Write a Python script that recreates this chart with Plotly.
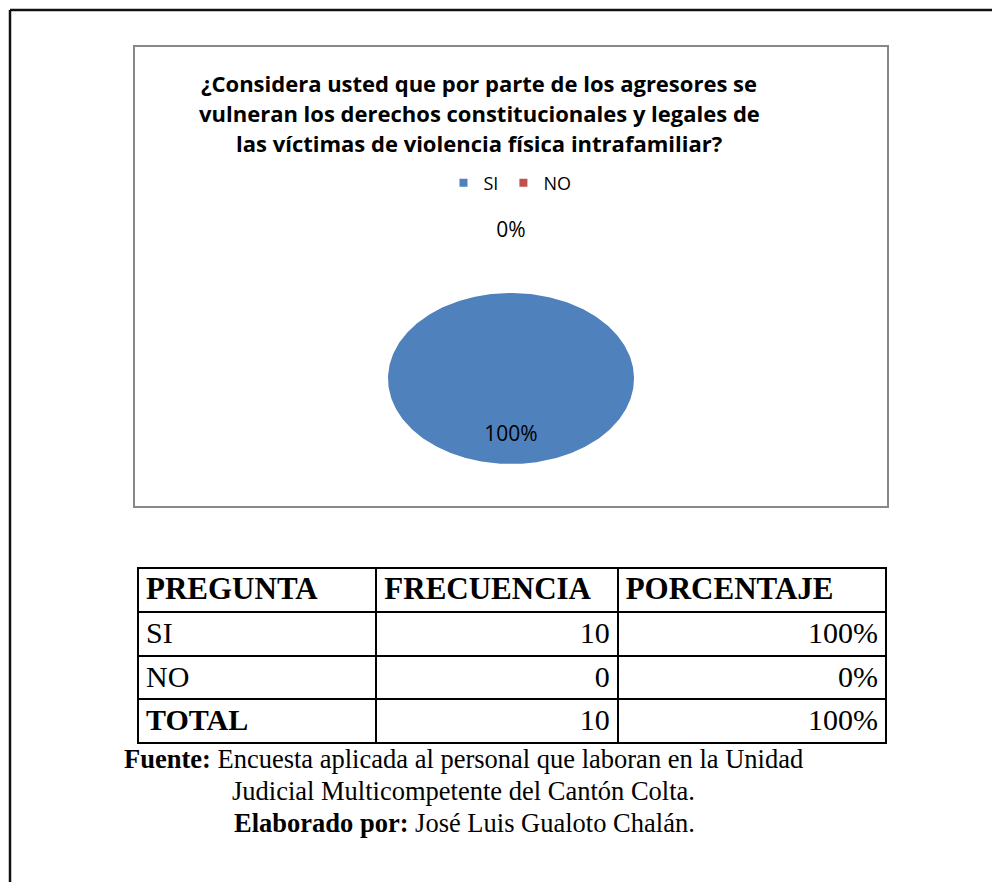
import numpy as np
import plotly.graph_objects as go

# ---------------- data ----------------
categories = ["SI", "NO"]
frequencies = [10, 0]
slice_colors = ["#4F81BD", "#C0504D"]
title_lines = [
    "¿Considera usted que por parte de los agresores se",
    "vulneran los derechos constitucionales y legales de",
    "las víctimas de violencia física intrafamiliar?",
]
table_header = ["PREGUNTA", "FRECUENCIA", "PORCENTAJE"]
total_label = "TOTAL"
source_lines = [
    "<b>Fuente:</b> Encuesta aplicada al personal que laboran en la Unidad",
    "Judicial Multicompetente del Cantón Colta.",
    "<b>Elaborado por:</b> José Luis Gualoto Chalán.",
]

# ---------------- helpers ----------------
W, H = 992, 882


def px(x):
    return x / W


def py(y):
    return 1 - y / H


total = sum(frequencies)
shares = [f / total for f in frequencies]
pct_labels = [f"{round(s * 100)}%" for s in shares]

fig = go.Figure()

# ---------------- pie (elliptical, as in the original) ----------------
cum = 0.0
lab_x, lab_y, lab_t = [], [], []
for cat, s, col, lab in zip(categories, shares, slice_colors, pct_labels):
    start, end = cum, cum + s
    cum = end
    if s > 0:
        t = np.linspace(start, end, max(3, int(s * 360) + 1))
        ang = np.pi / 2 - 2 * np.pi * t
        xs = np.concatenate([[0.0], np.cos(ang), [0.0]])
        ys = np.concatenate([[0.0], np.sin(ang), [0.0]])
        fig.add_trace(go.Scatter(
            x=xs, y=ys, mode="lines", fill="toself", fillcolor=col,
            line=dict(width=0, color=col), hoverinfo="skip",
            showlegend=False, legendgroup=cat, xaxis="x", yaxis="y"))
    mid = (start + end) / 2
    a = np.pi / 2 - 2 * np.pi * mid
    r = 0.673 if s >= 0.05 else 1.72
    lab_x.append(r * np.cos(a))
    lab_y.append(r * np.sin(a))
    lab_t.append(lab)

fig.add_trace(go.Scatter(
    x=lab_x, y=lab_y, text=lab_t, mode="text",
    textfont=dict(family="Open Sans", size=21, color="#000000"),
    textposition="middle center", cliponaxis=False, hoverinfo="skip",
    showlegend=False, xaxis="x", yaxis="y"))

# legend entries
for cat, col in zip(categories, slice_colors):
    fig.add_trace(go.Scatter(
        x=[None], y=[None], mode="markers", name=cat, legendgroup=cat,
        marker=dict(symbol="square", size=8, color=col),
        xaxis="x", yaxis="y"))

# ---------------- table ----------------
col1 = categories
col2 = [str(f) for f in frequencies]
col3 = pct_labels
total_row = [total_label, str(total), f"{round(sum(shares) * 100)}%"]

col_w = [238, 241, 268]
tx = [px(138), px(886)]
line_style = dict(color="black", width=2)

# header + category rows
fig.add_trace(go.Table(
    domain=dict(x=tx, y=[py(704), py(568)]),
    columnwidth=col_w,
    header=dict(
        values=table_header,
        align="left",
        font=dict(family="Liberation Serif", size=31, color="black",
                  weight="bold"),
        line=line_style, fill_color="white", height=44,
    ),
    cells=dict(
        values=[col1, col2, col3],
        align=["left", "right", "right"],
        font=dict(family="Liberation Serif", size=30, color="black"),
        line=line_style, fill_color="white", height=44,
    ),
))

# total row (first column bold)
fig.add_trace(go.Table(
    domain=dict(x=tx, y=[py(748), py(699)]),
    columnwidth=col_w,
    header=dict(
        values=total_row,
        align=["left", "right", "right"],
        font=dict(family="Liberation Serif", size=30, color="black",
                  weight=["bold", "normal", "normal"]),
        line=line_style, fill_color="white", height=44,
    ),
    cells=dict(values=[[], [], []], line=line_style, fill_color="white"),
))

# ---------------- annotations ----------------
annotations = []
for i, line in enumerate(title_lines):
    annotations.append(dict(
        text=f"<b>{line}</b>", x=px(479), y=py(83 + 30 * i),
        xref="paper", yref="paper", xanchor="center", yanchor="middle",
        showarrow=False, font=dict(family="Open Sans", size=22, color="#000000")))

src_pos = [(122, 759), (230, 791), (232, 823)]
for (sx, sy), line in zip(src_pos, source_lines):
    annotations.append(dict(
        text=line, x=px(sx), y=py(sy), xref="paper", yref="paper",
        xanchor="left", yanchor="middle", showarrow=False,
        font=dict(family="Liberation Serif", size=26.5, color="#000000")))

# ---------------- frames ----------------
shapes = [
    dict(type="line", xref="paper", yref="paper", x0=px(10), x1=px(10),
         y0=py(10), y1=py(882), line=dict(color="#111111", width=2.5)),
    dict(type="line", xref="paper", yref="paper", x0=px(10), x1=px(992),
         y0=py(10), y1=py(10), line=dict(color="#111111", width=2.5)),
    dict(type="rect", xref="paper", yref="paper", x0=px(134), x1=px(888),
         y0=py(507), y1=py(46), line=dict(color="#888888", width=2),
         fillcolor="rgba(0,0,0,0)"),
]

# pie axis: [-1, 1] maps onto pixel rows 293..464; extra headroom for the outside label
pie_top, pie_bot, head_top = 293, 464, 205
unit = (pie_bot - pie_top) / 2
fig.update_layout(
    width=W, height=H,
    margin=dict(l=0, r=0, t=0, b=0),
    paper_bgcolor="white", plot_bgcolor="rgba(0,0,0,0)",
    xaxis=dict(domain=[px(388), px(634)], range=[-1, 1], visible=False,
               fixedrange=True),
    yaxis=dict(domain=[py(pie_bot), py(head_top)],
               range=[-1, 1 + (pie_top - head_top) / unit], visible=False,
               fixedrange=True),
    showlegend=True,
    legend=dict(orientation="h", x=px(510), xanchor="center",
                y=py(183), yanchor="middle", itemwidth=30,
                font=dict(family="Open Sans", size=18, color="#000000"),
                bgcolor="rgba(0,0,0,0)", itemclick=False,
                itemdoubleclick=False),
    annotations=annotations,
    shapes=shapes,
)

fig.write_html("out.html", config={"displayModeBar": False},
               post_script="document.body.style.margin='0';document.body.style.overflow='hidden';")
